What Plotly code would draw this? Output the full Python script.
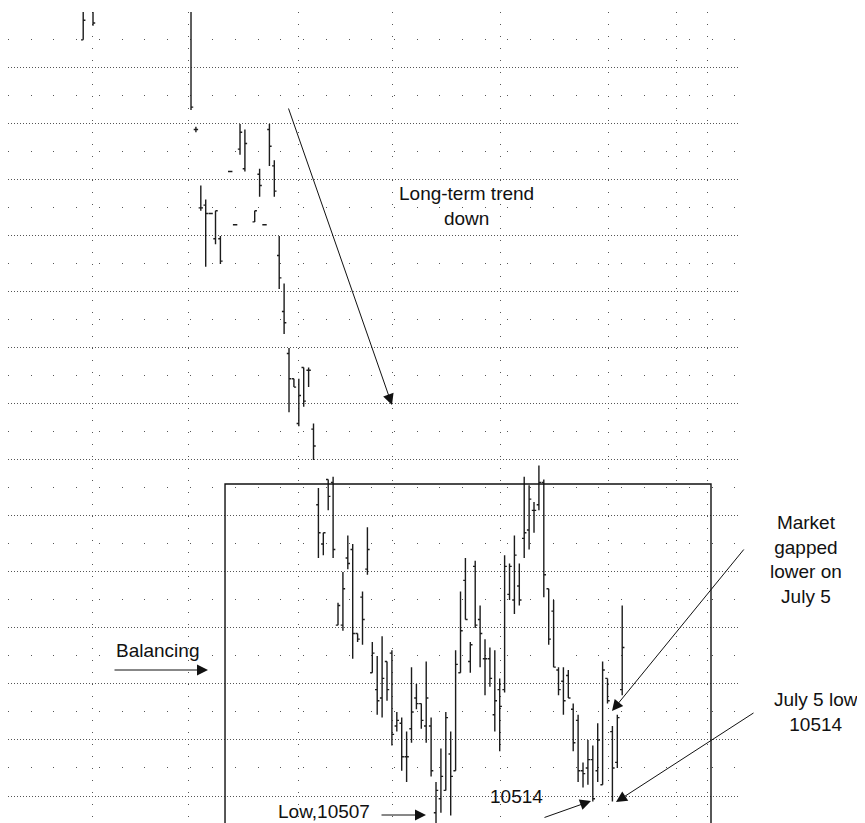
import plotly.graph_objects as go

# ---- data (trading-day index, OHLC prices) ----
day = [-22, -20, 0, 1, 2, 3, 4, 5, 6, 8, 9, 10, 11, 13, 14, 15, 16, 17, 18, 19,
       20, 21, 22, 23, 24, 25, 26, 27, 28, 29, 30, 31, 32, 33, 34, 35, 36, 37, 38, 39,
       40, 41, 42, 43, 44, 45, 46, 47, 48, 49, 50, 51, 52, 53, 54, 55, 56, 57, 58, 59,
       60, 61, 62, 63, 64, 65, 66, 67, 68, 69, 70, 71, 72, 73, 74, 75, 76, 77, 78, 79,
       80, 81, 82, 83, 84, 85, 86, 87, 88]
open_ = [10790, 10808, 10820, 10758, 10730, 10731, 10728, 10719, 10719, 10743, 10724, 10751, 10744, 10725, 10742, 10724, 10758, 10745, 10713, 10693,
         10678, 10669, 10653, 10673, 10672, 10651, 10624, 10610, 10633, 10632, 10581, 10581, 10605, 10608, 10578, 10591, 10601, 10564, 10558, 10555,
         10568, 10571, 10545, 10546, 10534, 10544, 10555, 10553, 10545, 10545, 10514, 10519, 10522, 10535, 10529, 10564, 10597, 10568, 10602, 10583,
         10569, 10569, 10549, 10558, 10558, 10592, 10590, 10595, 10612, 10615, 10622, 10624, 10632, 10594, 10586, 10565, 10561, 10563, 10551, 10547,
         10529, 10530, 10533, 10529, 10524, 10562, 10543, 10532, 10558]
high = [10810, 10815, 10830, 10759, 10738, 10733, 10728, 10729, 10720, 10743, 10724, 10760, 10758, 10729, 10744, 10724, 10760, 10747, 10720, 10703,
        10680, 10669, 10669, 10673, 10673, 10653, 10630, 10614, 10633, 10634, 10589, 10600, 10613, 10610, 10578, 10593, 10616, 10575, 10570, 10577,
        10568, 10572, 10550, 10548, 10543, 10566, 10560, 10553, 10568, 10548, 10525, 10537, 10550, 10543, 10572, 10593, 10605, 10575, 10604, 10588,
        10576, 10573, 10572, 10562, 10606, 10603, 10613, 10603, 10634, 10631, 10625, 10638, 10633, 10594, 10590, 10566, 10566, 10565, 10553, 10549,
        10532, 10540, 10538, 10546, 10568, 10562, 10545, 10549, 10588]
low = [10790, 10795, 10765, 10757, 10729, 10709, 10728, 10717, 10710, 10743, 10724, 10749, 10743, 10725, 10734, 10724, 10745, 10734, 10701, 10685,
       10657, 10666, 10652, 10659, 10666, 10640, 10605, 10606, 10622, 10605, 10581, 10579, 10601, 10569, 10575, 10574, 10599, 10564, 10549, 10548,
       10554, 10538, 10543, 10529, 10525, 10539, 10551, 10544, 10539, 10527, 10507, 10514, 10522, 10513, 10529, 10564, 10583, 10564, 10580, 10566,
       10556, 10559, 10543, 10536, 10557, 10590, 10585, 10588, 10605, 10608, 10614, 10622, 10591, 10574, 10566, 10556, 10549, 10555, 10536, 10525,
       10523, 10524, 10518, 10525, 10524, 10553, 10518, 10530, 10556]
close = [10797, 10796, 10766, 10758, 10730, 10728, 10728, 10729, 10711, 10743, 10724, 10757, 10753, 10729, 10738, 10724, 10752, 10736, 10705, 10689,
         10669, 10666, 10663, 10661, 10672, 10645, 10614, 10614, 10627, 10608, 10588, 10594, 10603, 10578, 10576, 10583, 10608, 10571, 10554, 10562,
         10558, 10542, 10547, 10534, 10534, 10550, 10553, 10547, 10555, 10529, 10522, 10527, 10548, 10527, 10567, 10579, 10583, 10574, 10581, 10578,
         10569, 10562, 10554, 10552, 10602, 10602, 10606, 10590, 10614, 10626, 10622, 10632, 10599, 10576, 10566, 10558, 10554, 10555, 10539, 10529,
         10528, 10533, 10519, 10540, 10565, 10554, 10530, 10548, 10573]

# vertical (period) grid positions, in trading-day units
period_marks = [-20.2, -0.6, 21.84, 41.02, 63.06, 85.1, 98.98, 105.31]

# ---- geometry (page body has an 8px margin) ----
OFF = 8
W, H = 865 - OFF, 823 - OFF
ML, MT = 8 - OFF, 12 - OFF
PW, PH = 730, 811
MR, MB = W - ML - PW, H - MT - PH
X_RANGE = [-37.35, 111.63]
Y_RANGE = [10800 - PH / 2.8, 10799.95]

def fx(p):  # screen px -> paper
    return (p - OFF - ML) / PW

def fy(p):
    return 1 - (p - OFF - MT) / PH

bar_line = dict(color="#1c1c1c", width=1.4)
fig = go.Figure(go.Ohlc(
    x=day, open=open_, high=high, low=low, close=close,
    increasing=dict(line=bar_line), decreasing=dict(line=bar_line),
    tickwidth=0.45, hoverinfo="skip", showlegend=False,
))

FONT = dict(family="Liberation Sans, Arial, sans-serif", size=19, color="#111")

fig.update_layout(
    width=W, height=H,
    margin=dict(l=ML, r=MR, t=MT, b=MB, pad=0, autoexpand=False),
    paper_bgcolor="white", plot_bgcolor="white",
    font=FONT,
    xaxis=dict(
        range=X_RANGE, rangeslider=dict(visible=False),
        tickvals=period_marks, showticklabels=False, ticks="",
        showgrid=True, gridcolor="#555", gridwidth=1, griddash="1px,11px",
        zeroline=False, showline=False, fixedrange=True,
    ),
    yaxis=dict(
        range=Y_RANGE, tick0=10780, dtick=20, showticklabels=False, ticks="",
        showgrid=True, gridcolor="#555", gridwidth=1, griddash="1px,2px",
        zeroline=False, showline=False, fixedrange=True,
        minor=dict(tick0=10790, dtick=20, showgrid=True, gridcolor="#555",
                   gridwidth=1, griddash="1px,21.7px", ticks=""),
    ),
)

# balancing box
fig.add_shape(type="rect", xref="x", yref="y", x0=6.94, x1=106.12,
              y0=10400, y1=10631.4, line=dict(color="#111", width=1.4))

def arrow(hx, hy, tx, ty):
    fig.add_annotation(xref="paper", yref="paper", x=fx(hx), y=fy(hy),
                       ax=tx - hx, ay=ty - hy, text="", showarrow=True,
                       arrowhead=2, arrowsize=2.2, arrowwidth=1, arrowcolor="#111")

def label(txt, cx, cy, xanchor="center"):
    fig.add_annotation(xref="paper", yref="paper", x=fx(cx), y=fy(cy),
                       text=txt, showarrow=False, xanchor=xanchor, yanchor="middle",
                       font=FONT, align="center")

arrow(392, 405, 288, 107)
label("Long-term trend<br>down", 466, 206)

arrow(208, 670, 113, 670)
label("Balancing", 157, 650)

arrow(426, 815, 380, 815)
label("Low,10507", 372, 811, xanchor="right")

arrow(591, 801, 543, 818)
label("10514", 516, 796)

arrow(612, 711, 745, 548)
label("Market<br>gapped<br>lower on<br>July 5", 806, 559)

arrow(616, 802, 755, 712)
label("July 5 low<br>10514", 816, 712)

fig.write_html("out.html")
